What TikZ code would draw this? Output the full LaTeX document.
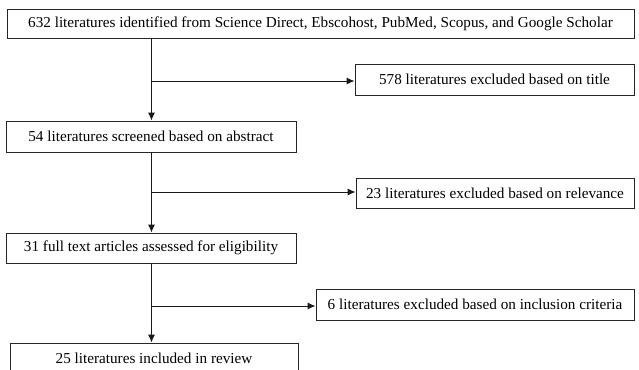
\documentclass[tikz,border=0pt]{standalone}
\usepackage{fontspec}
\setmainfont{Liberation Serif}
\usetikzlibrary{arrows.meta}

\tikzset{
  stagebox/.style={draw=black!85, line width=.9pt, inner sep=0pt,
    font=\fontsize{15.2}{17}\selectfont},
  flow/.style={draw=black!90, line width=1pt, -{Latex[length=8pt, width=7pt]}},
}

\begin{document}
\begin{tikzpicture}[x=1pt, y=-1pt]

  \useasboundingbox (0, 0) rectangle (639, 369);

  \def\mainx{151.5}

  % left column
  \node[stagebox, minimum width=627pt, minimum height=29pt] (found) at (320.5, 23.5)
    {632 literatures identified from Science Direct, Ebscohost, PubMed, Scopus, and Google Scholar};
  \node[stagebox, minimum width=290pt, minimum height=31pt] (screened) at (151, 136.5)
    {54 literatures screened based on abstract};
  \node[stagebox, minimum width=290pt, minimum height=30pt] (assessed) at (151, 248)
    {31 full text articles assessed for eligibility};
  \node[stagebox, minimum width=288pt, minimum height=31pt] (included) at (154, 358.5)
    {25 literatures included in review};

  % right column
  \node[stagebox, minimum width=279pt, minimum height=31pt] (exTitle) at (494.5, 79.5)
    {578 literatures excluded based on title};
  \node[stagebox, minimum width=278pt, minimum height=30pt] (exRelevance) at (495, 193)
    {23 literatures excluded based on relevance};
  \node[stagebox, minimum width=318pt, minimum height=31pt] (exCriteria) at (475, 304.5)
    {6 literatures excluded based on inclusion criteria};

  \coordinate (split1) at (\mainx, 81);
  \coordinate (split2) at (\mainx, 192);
  \coordinate (split3) at (\mainx, 306);

  \draw[flow] (found.south -| split1) -- (screened.north -| split1);
  \draw[flow] (screened.south -| split2) -- (assessed.north -| split2);
  \draw[flow] (assessed.south -| split3) -- (included.north -| split3);

  \draw[flow] (split1) -- (exTitle.west |- split1);
  \draw[flow] (split2) -- (exRelevance.west |- split2);
  \draw[flow] (split3) -- (exCriteria.west |- split3);

\end{tikzpicture}
\end{document}
